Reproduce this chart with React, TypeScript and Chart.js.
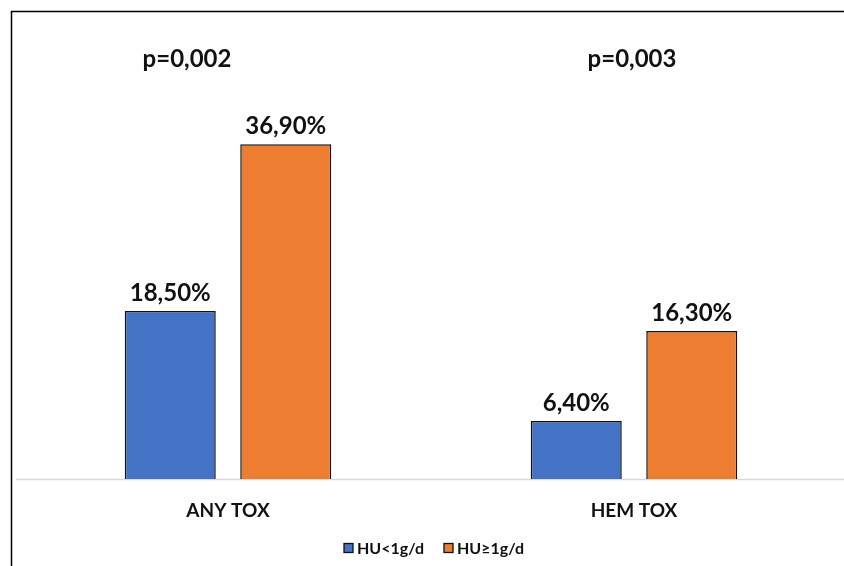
import { useEffect, useRef } from 'react';
import { Chart, registerables } from 'chart.js';

Chart.register(...registerables);

// Toxicity rates (%) by hydroxyurea dose group
const categories = ['ANY TOX', 'HEM TOX'];
const seriesNames = ['HU<1g/d', 'HU≥1g/d'];
const lowDose = [18.5, 6.4];
const highDose = [36.9, 16.3];
const pValues = ['p=0,002', 'p=0,003'];

const BLUE = '#4472C4';
const ORANGE = '#ED7D31';
const FONT = 'Lato, "Open Sans", sans-serif';
// horizontal shift of each p-value label from its category centre
const P_SHIFT = [-41, -2];

const fmtPct = (v: number) => v.toFixed(2).replace('.', ',') + '%';

const decorations = {
  id: 'decorations',
  beforeDatasetsDraw(chart: any) {
    const { ctx, chartArea } = chart;
    ctx.save();
    // baseline
    ctx.strokeStyle = '#d9d9d9';
    ctx.lineWidth = 1.5;
    ctx.beginPath();
    ctx.moveTo(16, chartArea.bottom + 0.5);
    ctx.lineTo(chart.width, chartArea.bottom + 0.5);
    ctx.stroke();
    ctx.restore();
  },
  afterDatasetsDraw(chart: any) {
    const { ctx, chartArea } = chart;
    ctx.save();
    // value labels above bars
    ctx.fillStyle = '#111';
    ctx.font = `bold 24px ${FONT}`;
    ctx.textAlign = 'center';
    ctx.textBaseline = 'alphabetic';
    chart.data.datasets.forEach((ds: any, di: number) => {
      const meta = chart.getDatasetMeta(di);
      meta.data.forEach((bar: any, i: number) => {
        ctx.fillText(fmtPct(ds.data[i]), bar.x, bar.y - 10);
      });
    });
    // p-values
    const xs = chart.scales.x;
    pValues.forEach((t, i) => {
      ctx.fillText(t, xs.getPixelForValue(i) + P_SHIFT[i], chartArea.top - 49);
    });

    // legend
    ctx.font = `bold 16px ${FONT}`;
    ctx.textAlign = 'left';
    ctx.textBaseline = 'middle';
    const box = 9;
    const gap = 4;
    const spacing = 20;
    const items = chart.data.datasets.map((ds: any) => ({
      text: ds.label,
      color: ds.backgroundColor,
      w: box + gap + ctx.measureText(ds.label).width,
    }));
    const total = items.reduce((s: number, it: any) => s + it.w, 0) + spacing * (items.length - 1);
    let x = 434 - total / 2;
    const ly = 548;
    items.forEach((it: any) => {
      ctx.fillStyle = it.color;
      ctx.fillRect(x, ly - box / 2, box, box);
      ctx.strokeStyle = '#111';
      ctx.lineWidth = 1.3;
      ctx.strokeRect(x, ly - box / 2, box, box);
      ctx.fillStyle = '#111';
      ctx.fillText(it.text, x + box + gap, ly + 1);
      x += it.w + spacing;
    });

    // frame
    ctx.strokeStyle = '#000';
    ctx.lineWidth = 1.5;
    ctx.beginPath();
    ctx.moveTo(11.5, chart.height);
    ctx.lineTo(11.5, 11.5);
    ctx.lineTo(chart.width, 11.5);
    ctx.stroke();
    ctx.restore();
  },
};

export default function App() {
  const ref = useRef<HTMLCanvasElement | null>(null);

  useEffect(() => {
    if (!ref.current) return;
    const chart = new Chart(ref.current, {
      type: 'bar',
      data: {
        labels: categories,
        datasets: [
          {
            label: seriesNames[0],
            data: lowDose,
            backgroundColor: BLUE,
            borderColor: '#111',
            borderWidth: 1.5,
            categoryPercentage: 0.569,
            barPercentage: 0.788,
          },
          {
            label: seriesNames[1],
            data: highDose,
            backgroundColor: ORANGE,
            borderColor: '#111',
            borderWidth: 1.5,
            categoryPercentage: 0.569,
            barPercentage: 0.788,
          },
        ],
      },
      options: {
        animation: false,
        responsive: true,
        maintainAspectRatio: false,
        layout: { padding: { top: 116, left: 25, right: 7, bottom: 0 } },
        plugins: {
          legend: { display: false },
          tooltip: { enabled: false },
        },
        scales: {
          x: {
            grid: { display: false, drawTicks: false },
            border: { display: false },
            ticks: {
              color: '#111',
              font: { family: FONT, size: 19, weight: 'bold' },
              padding: 20,
            },
            afterFit: (scale: any) => {
              scale.height = 87;
            },
          },
          y: {
            display: false,
            min: 0,
            max: 40,
          },
        },
      },
      plugins: [decorations],
    });
    return () => chart.destroy();
  }, []);

  return (
    <div style={{ position: 'absolute', left: 0, top: 0, width: 844, height: 566, background: '#fff' }}>
      <canvas ref={ref} />
    </div>
  );
}
